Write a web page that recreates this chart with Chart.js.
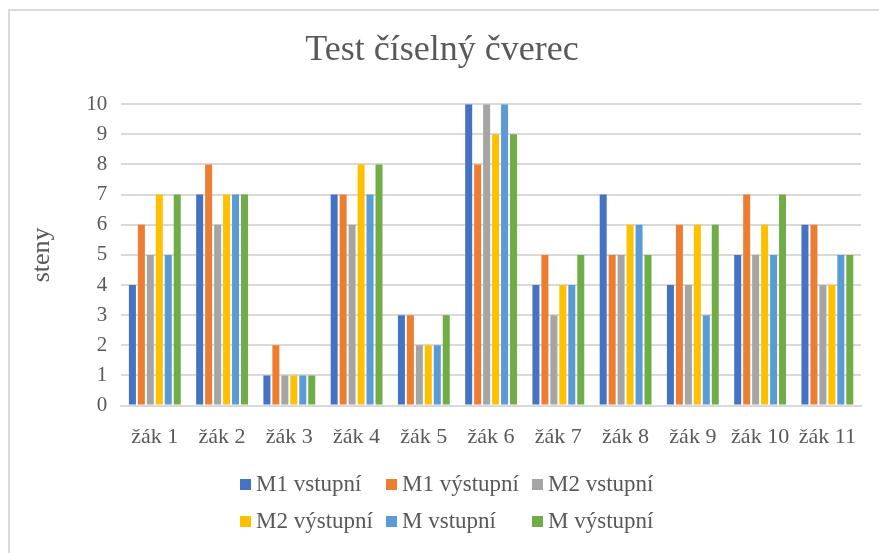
<!DOCTYPE html>
<html>
<head>
<meta charset="utf-8">
<script src="https://cdn.jsdelivr.net/npm/chart.js@4.4.0/dist/chart.umd.min.js"></script>
<style>
  body { margin: 0; background: #fff; font-family: "Liberation Serif", "Times New Roman", serif; }
  #frame { position: absolute; left: 8px; top: 9px; width: 871px; height: 544px;
           border-left: 2px solid #d9d9d9; border-top: 2px solid #d9d9d9; box-sizing: border-box; }
  #wrap { position: absolute; left: 0; top: 0; width: 869px; height: 542px; }
  #legend { position: absolute; left: 220px; top: 460px; width: 460px; }
  .item { position: absolute; display: flex; align-items: center; color: #595959; font-size: 23px; white-space: nowrap; }
  .box { width: 11px; height: 11px; margin-right: 5px; }
</style>
</head>
<body>
<div id="frame">
  <div id="wrap"><canvas id="chart"></canvas></div>
  <div id="legend"></div>
</div>
<script>
const categories = ['žák 1', 'žák 2', 'žák 3', 'žák 4', 'žák 5', 'žák 6', 'žák 7', 'žák 8', 'žák 9', 'žák 10', 'žák 11'];
const seriesNames = ['M1 vstupní', 'M1 výstupní', 'M2 vstupní', 'M2 výstupní', 'M vstupní', 'M výstupní'];
const colors = ['#4472C4', '#ED7D31', '#A5A5A5', '#FFC000', '#5B9BD5', '#70AD47'];

const m1Vstupni  = [4, 7, 1, 7, 3, 10, 4, 7, 4, 5, 6];
const m1Vystupni = [6, 8, 2, 7, 3, 8, 5, 5, 6, 7, 6];
const m2Vstupni  = [5, 6, 1, 6, 2, 10, 3, 5, 4, 5, 4];
const m2Vystupni = [7, 7, 1, 8, 2, 9, 4, 6, 6, 6, 4];
const mVstupni   = [5, 7, 1, 7, 2, 10, 4, 6, 3, 5, 5];
const mVystupni  = [7, 7, 1, 8, 3, 9, 5, 5, 6, 7, 5];

const values = [m1Vstupni, m1Vystupni, m2Vstupni, m2Vystupni, mVstupni, mVystupni];
const textColor = '#595959';
const serif = '"Liberation Serif", "Times New Roman", serif';

new Chart(document.getElementById('chart'), {
  type: 'bar',
  data: {
    labels: categories,
    datasets: seriesNames.map((name, i) => ({
      label: name,
      data: values[i],
      backgroundColor: colors[i],
      categoryPercentage: 0.8,
      barPercentage: 0.78
    }))
  },
  options: {
    responsive: true,
    maintainAspectRatio: false,
    animation: false,
    layout: { padding: { left: 13, right: 18, top: 0, bottom: 85 } },
    plugins: {
      legend: { display: false },
      tooltip: { enabled: false },
      title: {
        display: true,
        text: 'Test číselný čverec',
        color: textColor,
        font: { family: serif, size: 36, weight: 'normal' },
        padding: { top: 18, bottom: 32 }
      }
    },
    scales: {
      x: {
        grid: { display: false, drawTicks: false },
        border: { color: '#d9d9d9', width: 2 },
        ticks: { color: textColor, font: { family: serif, size: 22 }, padding: 18, maxRotation: 0, autoSkip: false }
      },
      y: {
        min: 0,
        max: 10,
        ticks: { stepSize: 1, color: textColor, font: { family: serif, size: 21 }, padding: 14 },
        grid: { color: '#d9d9d9', lineWidth: 2, drawTicks: false },
        border: { display: false },
        title: { display: true, text: 'steny', color: textColor, font: { family: serif, size: 26 }, padding: { bottom: 14 } }
      }
    }
  }
});

// legend laid out as a 3-column grid like the original
const legend = document.getElementById('legend');
seriesNames.forEach((name, i) => {
  const el = document.createElement('div');
  el.className = 'item';
  el.style.left = (10 + (i % 3) * 146) + 'px';
  el.style.top = (Math.floor(i / 3) * 37) + 'px';
  el.innerHTML = '<span class="box" style="background:' + colors[i] + '"></span>' + name;
  legend.appendChild(el);
});
</script>
</body>
</html>
